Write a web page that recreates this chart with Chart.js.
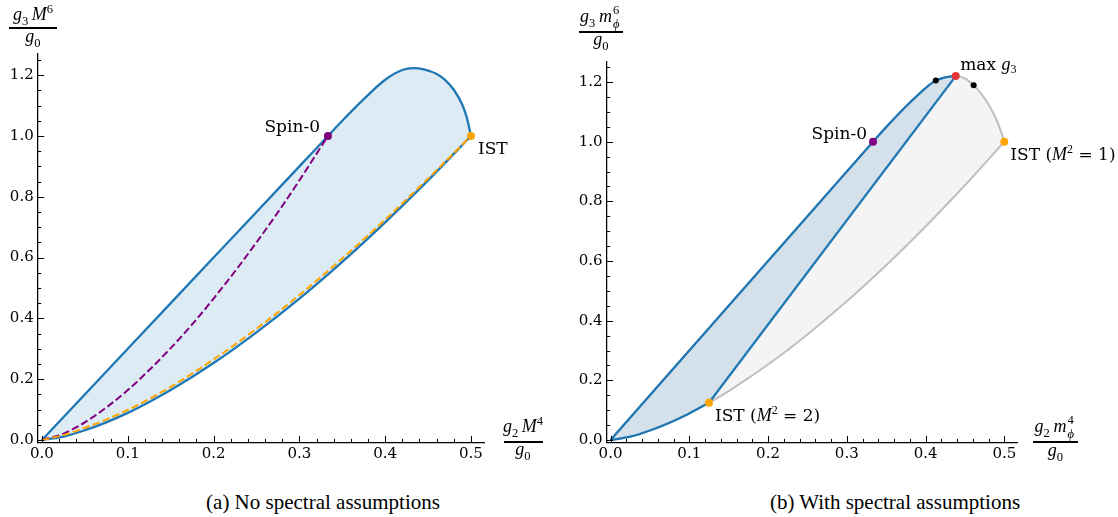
<!DOCTYPE html>
<html>
<head>
<meta charset="utf-8">
<script src="https://cdn.jsdelivr.net/npm/chart.js@4.4.1/dist/chart.umd.min.js"></script>
<style>
html,body{margin:0;padding:0;background:#fff;}
#wrap{position:relative;width:1118px;height:517px;overflow:hidden;background:#fff;}
#wrap canvas{position:absolute;top:0;}
.t{position:absolute;font-family:"Liberation Serif",serif;color:#000;white-space:nowrap;text-align:center;}
.t i{font-style:italic;}
.t sub,.t sup{font-size:70%;line-height:0;font-style:normal;}
.bar{position:absolute;background:#000;height:1.7px;}
.ss{position:relative;display:inline-block;width:10px;height:0;}
.ss span{position:absolute;left:1px;font-size:70%;line-height:1;}
</style>
</head>
<body>
<div id="wrap">
<canvas id="c1" width="560" height="480" style="left:0"></canvas>
<canvas id="c2" width="558" height="480" style="left:560px"></canvas>
</div>
<script>
// ---------------- data ----------------
const xTickVals = [0, 0.1, 0.2, 0.3, 0.4, 0.5];
const xTickLabels = ['0.0', '0.1', '0.2', '0.3', '0.4', '0.5'];
const yTickVals = [0, 0.2, 0.4, 0.6, 0.8, 1.0, 1.2];
const yTickLabels = ['0.0', '0.2', '0.4', '0.6', '0.8', '1.0', '1.2'];

// panel (a)
const aUpperX = [0, 0.1, 0.2, 0.3, 0.3333, 0.35, 0.375, 0.40, 0.42, 0.433, 0.445, 0.46, 0.47, 0.48, 0.49, 0.495, 0.5];
const aUpperY = [0, 0.3, 0.6, 0.9, 1.0, 1.050, 1.121, 1.185, 1.217, 1.223, 1.219, 1.204, 1.184, 1.152, 1.102, 1.062, 1.0];
const aLowerX = [0, 0.025, 0.05, 0.075, 0.1, 0.125, 0.15, 0.2, 0.25, 0.3, 0.35, 0.4, 0.45, 0.5];
const aLowerY = [0, 0.011, 0.032, 0.058, 0.089, 0.125, 0.164, 0.253, 0.354, 0.465, 0.586, 0.716, 0.854, 1.0];
const aIstX = [0, 0.025, 0.05, 0.075, 0.1, 0.125, 0.15, 0.2, 0.25, 0.3, 0.35, 0.4, 0.45, 0.5];
const aIstY = [0, 0.016, 0.040, 0.067, 0.099, 0.135, 0.175, 0.265, 0.366, 0.477, 0.597, 0.725, 0.860, 1.0];
const aSpinX = [0, 0.025, 0.05, 0.075, 0.1, 0.125, 0.15, 0.175, 0.2, 0.225, 0.25, 0.275, 0.3, 0.3333];
const aSpinY = [0, 0.021, 0.058, 0.107, 0.164, 0.230, 0.302, 0.380, 0.465, 0.555, 0.650, 0.749, 0.854, 1.0];
const aSpinPtX = [0.3333], aSpinPtY = [1.0];
const aIstPtX = [0.5], aIstPtY = [1.0];

// panel (b)
const bUpperX = [0, 0.1, 0.2, 0.3, 0.3333, 0.35, 0.375, 0.40, 0.413, 0.425, 0.4383];
const bUpperY = [0, 0.3, 0.6, 0.9, 1.0, 1.049, 1.118, 1.180, 1.205, 1.216, 1.220];
const bTailX = [0.4383, 0.45, 0.4611, 0.47, 0.48, 0.49, 0.495, 0.5];
const bTailY = [1.220, 1.212, 1.189, 1.163, 1.125, 1.074, 1.040, 1.0];
const bLowerX = [0, 0.025, 0.05, 0.075, 0.1, 0.125, 0.15, 0.2, 0.25, 0.3, 0.35, 0.4, 0.45, 0.5];
const bLowerY = [0, 0.011, 0.032, 0.058, 0.089, 0.125, 0.164, 0.253, 0.354, 0.465, 0.586, 0.716, 0.854, 1.0];
const bChordX = [0.125, 0.4383];
const bChordY = [0.125, 1.220];
const bBlackX = [0.413, 0.4611], bBlackY = [1.205, 1.189];
const bMaxX = [0.4383], bMaxY = [1.220];
const bSpinPtX = [0.3333], bSpinPtY = [1.0];
const bIstPtX = [0.5, 0.125], bIstPtY = [1.0, 0.125];

// ---------------- helpers ----------------
const BLUE = '#1f77b4', PURPLE = '#800080', ORANGE = '#ffa500', RED = '#e5343a', GRAY = '#bfbfbf', BLACK = '#000';
const pts = (xs, ys) => xs.map((x, i) => ({x: x, y: ys[i]}));

function line(data, color, width, order, extra) {
  return Object.assign({
    data: data, showLine: true, borderColor: color, borderWidth: width, backgroundColor: color,
    pointRadius: 0, pointHoverRadius: 0, fill: false, order: order, tension: 0
  }, extra || {});
}
function poly(data, color, order) {
  return {data: data, showLine: true, borderColor: 'rgba(0,0,0,0)', borderWidth: 0,
    backgroundColor: color, pointRadius: 0, pointHoverRadius: 0, fill: 'shape', order: order, tension: 0};
}
function dots(data, color, r) {
  return {data: data, showLine: false, pointRadius: r, pointHoverRadius: r, pointBackgroundColor: color,
    pointBorderWidth: 0, backgroundColor: color, borderColor: color, order: 0};
}

function axis(min, max, vals, labels, isX, fitSize) {
  return {
    type: 'linear', min: min, max: max,
    grid: {display: false, drawTicks: false},
    border: {display: true, color: '#000', width: 1.25},
    ticks: {
      font: {family: 'DejaVu Serif', size: 15}, color: '#000',
      padding: isX ? 3 : 4, maxRotation: 0, autoSkip: false, includeBounds: false,
      callback: (v, i) => labels[i]
    },
    afterBuildTicks: s => { s.ticks = vals.map(v => ({value: v})); },
    afterFit: s => { if (isX) s.height = fitSize; else s.width = fitSize; }
  };
}

const inTicks = {
  id: 'inTicks',
  afterDraw(chart) {
    const {ctx, chartArea: a, scales: {x, y}} = chart;
    ctx.save();
    ctx.strokeStyle = '#000';
    ctx.lineWidth = 1;
    ctx.beginPath();
    for (let k = 0; k <= 25; k++) {
      const v = k * 0.02;
      if (v > x.max) break;
      const len = (k % 5 === 0) ? 6.5 : 3.5;
      const px = Math.round(x.getPixelForValue(v)) + 0.5;
      ctx.moveTo(px, a.bottom);
      ctx.lineTo(px, a.bottom - len);
    }
    for (let k = 0; k <= 30; k++) {
      const v = k * 0.05;
      if (v > y.max) break;
      const len = (k % 4 === 0) ? 6.5 : 3.5;
      const py = Math.round(y.getPixelForValue(v)) + 0.5;
      ctx.moveTo(a.left, py);
      ctx.lineTo(a.left + len, py);
    }
    ctx.stroke();
    ctx.restore();
  }
};

const F_TXT = '17px "DejaVu Serif"';
const F_MI = 'italic 18px "Liberation Serif"';
const F_SM = '12px "Liberation Serif"';

function drawRich(ctx, x, y, segs, align) {
  let w = 0;
  segs.forEach(s => { ctx.font = s.f; w += ctx.measureText(s.t).width; });
  let cx = align === 'right' ? x - w : x;
  segs.forEach(s => { ctx.font = s.f; ctx.fillText(s.t, cx, y + (s.dy || 0)); cx += ctx.measureText(s.t).width; });
}
function labelPlugin(items) {
  return {
    id: 'labels',
    afterDatasetsDraw(chart) {
      const {ctx, scales: {x, y}} = chart;
      ctx.save();
      ctx.fillStyle = '#000';
      ctx.textBaseline = 'alphabetic';
      items.forEach(it => {
        drawRich(ctx, x.getPixelForValue(it.x) + it.dx, y.getPixelForValue(it.y) + it.dy, it.segs, it.align);
      });
      ctx.restore();
    }
  };
}

function baseOptions(pad, yFit, xFit, xmax) {
  return {
    responsive: false, animation: false, devicePixelRatio: 1, events: [],
    layout: {padding: pad},
    plugins: {legend: {display: false}, tooltip: {enabled: false}},
    scales: {
      x: axis(-0.005, xmax, xTickVals, xTickLabels, true, xFit),
      y: axis(-0.008, 1.27, yTickVals, yTickLabels, false, yFit)
    }
  };
}

// ---------------- panel (a) ----------------
const aFill = pts(aUpperX, aUpperY).concat(pts(aLowerX, aLowerY).reverse());
new Chart(document.getElementById('c1'), {
  type: 'scatter',
  data: {datasets: [
    dots(pts(aSpinPtX, aSpinPtY), PURPLE, 4),
    dots(pts(aIstPtX, aIstPtY), ORANGE, 4),
    line(pts(aIstX, aIstY), ORANGE, 2, 1, {borderDash: [7.4, 3.2], cubicInterpolationMode: 'monotone'}),
    line(pts(aSpinX, aSpinY), PURPLE, 2, 1, {borderDash: [7.4, 3.2], cubicInterpolationMode: 'monotone'}),
    line(pts(aLowerX, aLowerY), BLUE, 2.3, 2, {cubicInterpolationMode: 'monotone'}),
    line(pts(aUpperX, aUpperY), BLUE, 2.3, 2, {cubicInterpolationMode: 'monotone'}),
    poly(aFill, '#ddebf4', 5)
  ]},
  options: baseOptions({left: 0, top: 53.9, right: 75.3, bottom: 0}, 37.7, 37.6, 0.516),
  plugins: [inTicks, labelPlugin([
    {x: aSpinPtX[0], y: aSpinPtY[0], dx: -8, dy: -4, align: 'right', segs: [{t: 'Spin-0', f: F_TXT}]},
    {x: aIstPtX[0], y: aIstPtY[0], dx: 7, dy: 18, align: 'left', segs: [{t: 'IST', f: F_TXT}]}
  ])]
});

// ---------------- panel (b) ----------------
const bFullUpper = pts(bUpperX, bUpperY).concat(pts(bTailX, bTailY).slice(1));
const bGrayFill = bFullUpper.concat(pts(bLowerX, bLowerY).reverse());
const bBlueFill = pts(bUpperX, bUpperY).concat(pts(bLowerX, bLowerY).slice(0, 6).reverse());
new Chart(document.getElementById('c2'), {
  type: 'scatter',
  data: {datasets: [
    dots(pts(bMaxX, bMaxY), RED, 4),
    dots(pts(bSpinPtX, bSpinPtY), PURPLE, 4),
    dots(pts(bIstPtX, bIstPtY), ORANGE, 4),
    dots(pts(bBlackX, bBlackY), BLACK, 3),
    line(pts(bUpperX, bUpperY), BLUE, 2.3, 1, {cubicInterpolationMode: 'monotone'}),
    line(pts(bChordX, bChordY), BLUE, 2.3, 1),
    line(pts(bLowerX, bLowerY).slice(0, 6), BLUE, 2.3, 1, {cubicInterpolationMode: 'monotone'}),
    line(bFullUpper, GRAY, 2, 2, {cubicInterpolationMode: 'monotone'}),
    line(pts(bLowerX, bLowerY), GRAY, 2, 2, {cubicInterpolationMode: 'monotone'}),
    poly(bBlueFill, '#d4e1eb', 4),
    poly(bGrayFill, '#f4f4f4', 5)
  ]},
  options: baseOptions({left: 0, top: 61.2, right: 100.3, bottom: 0}, 46.6, 37.6, 0.517),
  plugins: [inTicks, labelPlugin([
    {x: bSpinPtX[0], y: bSpinPtY[0], dx: -6, dy: -3, align: 'right', segs: [{t: 'Spin-0', f: F_TXT}]},
    {x: bMaxX[0], y: bMaxY[0], dx: 4.5, dy: -6, align: 'left', segs: [{t: 'max ', f: F_TXT}, {t: 'g', f: F_MI}, {t: '3', f: F_SM, dy: 3}]},
    {x: bIstPtX[0], y: bIstPtY[0], dx: 6, dy: 18, align: 'left', segs: [{t: 'IST (', f: F_TXT}, {t: 'M', f: F_MI}, {t: '2', f: F_SM, dy: -7}, {t: ' = 1)', f: F_TXT}]},
    {x: bIstPtX[1], y: bIstPtY[1], dx: 6, dy: 18, align: 'left', segs: [{t: 'IST (', f: F_TXT}, {t: 'M', f: F_MI}, {t: '2', f: F_SM, dy: -7}, {t: ' = 2)', f: F_TXT}]}
  ])]
});

// ---------------- text labels ----------------
const wrap = document.getElementById('wrap');
function addText(html, cx, baseline, fs, w) {
  const d = document.createElement('div');
  d.className = 't';
  d.style.fontSize = fs + 'px';
  d.style.lineHeight = fs + 'px';
  d.style.width = w + 'px';
  d.style.left = (cx - w / 2) + 'px';
  d.style.top = (baseline - 0.8375 * fs) + 'px';
  d.innerHTML = html;
  wrap.appendChild(d);
}
function addBar(x0, x1, y) {
  const d = document.createElement('div');
  d.className = 'bar';
  d.style.left = x0 + 'px';
  d.style.width = (x1 - x0) + 'px';
  d.style.top = y + 'px';
  wrap.appendChild(d);
}
const G0 = '<i>g</i><sub>0</sub>';
const phiStack = n => '<span class="ss"><span style="bottom:5px">' + n + '</span><span style="top:-4px"><i>&#981;</i></span></span>';

// panel (a) axis labels
addText('<i>g</i><sub>3</sub>&thinsp;<i>M</i><sup>6</sup>', 33, 20, 18, 80);
addBar(9, 57, 27);
addText(G0, 33, 42, 18, 60);
addText('<i>g</i><sub>2</sub>&thinsp;<i>M</i><sup>4</sup>', 523, 432, 18, 80);
addBar(504, 543, 441);
addText(G0, 523, 455, 18, 60);

// panel (b) axis labels
addText('<i>g</i><sub>3</sub>&thinsp;<i>m</i>' + phiStack('6'), 601, 22, 18, 80);
addBar(579, 623, 31);
addText(G0, 601, 45, 18, 60);
addText('<i>g</i><sub>2</sub>&thinsp;<i>m</i>' + phiStack('4'), 1055.5, 432, 18, 80);
addBar(1033, 1078, 441);
addText(G0, 1055.5, 456, 18, 60);

// captions
addText('(a) No spectral assumptions', 323, 510, 21, 400);
addText('(b) With spectral assumptions', 895, 510, 21, 400);
</script>
</body>
</html>
